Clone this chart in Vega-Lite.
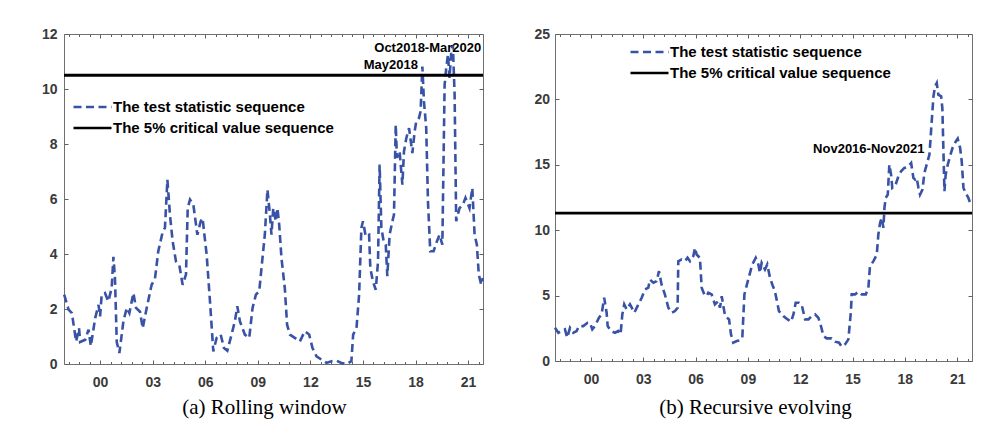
{
  "$schema": "https://vega.github.io/schema/vega-lite/v6.json",
  "padding": {"left": 40, "top": 26, "right": 5, "bottom": 5},
  "spacing": 43,
  "datasets": {
    "rolling": [
      {"t":1997.95,"v":2.52},{"t":1998.20,"v":1.98},{"t":1998.39,"v":1.85},{"t":1998.63,"v":0.82},{"t":1998.80,"v":1.30},{"t":1998.86,"v":0.80},
      {"t":1999.15,"v":0.88},{"t":1999.34,"v":1.25},{"t":1999.47,"v":0.65},{"t":1999.72,"v":1.67},{"t":1999.91,"v":2.15},{"t":2000.00,"v":1.73},
      {"t":2000.09,"v":2.52},{"t":2000.28,"v":2.58},{"t":2000.47,"v":2.28},{"t":2000.66,"v":2.76},{"t":2000.76,"v":3.90},{"t":2000.85,"v":3.10},
      {"t":2000.95,"v":0.80},{"t":2001.10,"v":0.40},{"t":2001.33,"v":1.55},{"t":2001.52,"v":2.04},{"t":2001.67,"v":1.85},{"t":2001.90,"v":2.58},
      {"t":2002.05,"v":2.04},{"t":2002.28,"v":1.90},{"t":2002.43,"v":1.30},{"t":2002.66,"v":2.04},{"t":2002.94,"v":2.88},{"t":2003.13,"v":3.10},
      {"t":2003.32,"v":4.10},{"t":2003.57,"v":4.80},{"t":2003.70,"v":4.95},{"t":2003.84,"v":6.70},{"t":2003.99,"v":5.40},{"t":2004.14,"v":4.46},
      {"t":2004.33,"v":3.73},{"t":2004.52,"v":3.60},{"t":2004.71,"v":2.88},{"t":2004.90,"v":3.25},{"t":2005.00,"v":5.67},{"t":2005.13,"v":5.98},
      {"t":2005.32,"v":5.80},{"t":2005.55,"v":4.70},{"t":2005.74,"v":5.19},{"t":2005.85,"v":5.30},{"t":2005.93,"v":4.82},{"t":2006.08,"v":3.98},
      {"t":2006.27,"v":2.28},{"t":2006.46,"v":0.46},{"t":2006.65,"v":0.95},{"t":2006.88,"v":1.07},{"t":2007.07,"v":0.58},{"t":2007.26,"v":0.48},
      {"t":2007.50,"v":1.07},{"t":2007.69,"v":1.55},{"t":2007.83,"v":2.10},{"t":2007.98,"v":1.55},{"t":2008.26,"v":1.07},{"t":2008.51,"v":0.95},
      {"t":2008.70,"v":2.04},{"t":2008.89,"v":2.52},{"t":2009.08,"v":2.64},{"t":2009.21,"v":3.49},{"t":2009.40,"v":4.70},{"t":2009.55,"v":6.34},
      {"t":2009.69,"v":5.43},{"t":2009.78,"v":4.70},{"t":2009.88,"v":5.67},{"t":2010.03,"v":5.19},{"t":2010.12,"v":5.67},{"t":2010.22,"v":5.07},
      {"t":2010.35,"v":3.85},{"t":2010.54,"v":2.76},{"t":2010.67,"v":1.43},{"t":2010.83,"v":1.07},{"t":2011.11,"v":0.95},{"t":2011.40,"v":0.82},
      {"t":2011.68,"v":1.19},{"t":2011.93,"v":1.07},{"t":2012.12,"v":0.58},{"t":2012.35,"v":0.28},{"t":2012.63,"v":0.16},{"t":2012.92,"v":0.04},
      {"t":2013.20,"v":0.10},{"t":2013.49,"v":0.12},{"t":2013.77,"v":0.04},{"t":2014.06,"v":0.00},{"t":2014.34,"v":0.10},{"t":2014.44,"v":1.07},
      {"t":2014.63,"v":1.30},{"t":2014.78,"v":2.52},{"t":2014.91,"v":4.95},{"t":2015.00,"v":5.19},{"t":2015.16,"v":4.64},{"t":2015.35,"v":4.70},
      {"t":2015.42,"v":3.49},{"t":2015.57,"v":3.00},{"t":2015.73,"v":2.70},{"t":2015.86,"v":3.73},{"t":2015.95,"v":7.25},{"t":2016.05,"v":4.95},
      {"t":2016.18,"v":4.46},{"t":2016.30,"v":4.34},{"t":2016.39,"v":3.19},{"t":2016.52,"v":4.70},{"t":2016.68,"v":5.19},{"t":2016.77,"v":5.43},
      {"t":2016.87,"v":8.70},{"t":2016.94,"v":7.50},{"t":2017.09,"v":7.73},{"t":2017.25,"v":6.52},{"t":2017.34,"v":7.73},{"t":2017.47,"v":8.20},
      {"t":2017.63,"v":8.58},{"t":2017.82,"v":7.67},{"t":2017.95,"v":8.46},{"t":2018.04,"v":8.82},{"t":2018.20,"v":8.95},{"t":2018.29,"v":9.19},
      {"t":2018.39,"v":10.82},{"t":2018.48,"v":9.55},{"t":2018.61,"v":8.58},{"t":2018.71,"v":5.90},{"t":2018.84,"v":4.10},{"t":2019.03,"v":4.10},
      {"t":2019.22,"v":4.46},{"t":2019.37,"v":4.70},{"t":2019.53,"v":4.34},{"t":2019.66,"v":10.15},{"t":2019.75,"v":10.76},{"t":2019.85,"v":11.25},
      {"t":2019.94,"v":10.40},{"t":2020.04,"v":11.37},{"t":2020.13,"v":11.60},{"t":2020.23,"v":9.79},{"t":2020.32,"v":5.19},{"t":2020.51,"v":5.67},
      {"t":2020.70,"v":5.79},{"t":2020.85,"v":6.04},{"t":2021.08,"v":5.67},{"t":2021.24,"v":6.40},{"t":2021.37,"v":4.70},{"t":2021.50,"v":4.34},
      {"t":2021.61,"v":3.25},{"t":2021.75,"v":2.88},{"t":2021.84,"v":3.13}
    ],
    "recursive": [
      {"t":1997.94,"v":2.54},{"t":1998.13,"v":2.16},{"t":1998.32,"v":2.29},{"t":1998.51,"v":2.42},{"t":1998.64,"v":1.78},{"t":1998.80,"v":2.54},
      {"t":1998.99,"v":2.16},{"t":1999.18,"v":2.29},{"t":1999.31,"v":2.67},{"t":1999.56,"v":2.67},{"t":1999.81,"v":2.93},{"t":1999.94,"v":2.93},
      {"t":2000.08,"v":2.42},{"t":2000.23,"v":2.67},{"t":2000.46,"v":3.31},{"t":2000.61,"v":3.56},{"t":2000.76,"v":4.83},{"t":2000.90,"v":3.69},
      {"t":2000.96,"v":2.67},{"t":2001.15,"v":2.29},{"t":2001.38,"v":2.16},{"t":2001.57,"v":2.29},{"t":2001.70,"v":2.04},{"t":2001.80,"v":3.56},
      {"t":2001.91,"v":4.33},{"t":2002.05,"v":3.94},{"t":2002.24,"v":4.33},{"t":2002.49,"v":3.69},{"t":2002.72,"v":4.33},{"t":2002.91,"v":4.83},
      {"t":2003.10,"v":5.47},{"t":2003.29,"v":5.60},{"t":2003.38,"v":6.23},{"t":2003.58,"v":5.98},{"t":2003.77,"v":6.10},{"t":2003.90,"v":6.87},
      {"t":2004.05,"v":5.85},{"t":2004.24,"v":5.09},{"t":2004.44,"v":4.07},{"t":2004.63,"v":3.69},{"t":2004.82,"v":3.82},{"t":2004.97,"v":4.07},
      {"t":2005.01,"v":7.63},{"t":2005.20,"v":7.76},{"t":2005.39,"v":7.63},{"t":2005.54,"v":7.89},{"t":2005.68,"v":7.63},{"t":2005.87,"v":8.02},
      {"t":2005.97,"v":8.65},{"t":2006.06,"v":8.14},{"t":2006.25,"v":7.89},{"t":2006.35,"v":5.60},{"t":2006.50,"v":5.09},{"t":2006.63,"v":4.96},
      {"t":2006.73,"v":5.22},{"t":2006.92,"v":5.09},{"t":2007.11,"v":4.33},{"t":2007.30,"v":4.58},{"t":2007.40,"v":4.07},{"t":2007.50,"v":4.96},
      {"t":2007.69,"v":3.44},{"t":2007.92,"v":3.18},{"t":2008.03,"v":2.04},{"t":2008.16,"v":1.40},{"t":2008.36,"v":1.53},{"t":2008.55,"v":1.58},
      {"t":2008.68,"v":1.78},{"t":2008.80,"v":5.09},{"t":2009.02,"v":6.23},{"t":2009.25,"v":7.38},{"t":2009.45,"v":7.89},{"t":2009.60,"v":7.38},
      {"t":2009.69,"v":6.74},{"t":2009.79,"v":7.51},{"t":2009.98,"v":7.00},{"t":2010.11,"v":7.38},{"t":2010.27,"v":6.36},{"t":2010.40,"v":5.85},
      {"t":2010.55,"v":5.34},{"t":2010.78,"v":3.82},{"t":2011.03,"v":3.44},{"t":2011.28,"v":3.18},{"t":2011.47,"v":3.00},{"t":2011.61,"v":3.56},
      {"t":2011.74,"v":4.45},{"t":2011.93,"v":4.45},{"t":2012.08,"v":4.33},{"t":2012.28,"v":3.18},{"t":2012.47,"v":3.18},{"t":2012.66,"v":3.44},
      {"t":2012.85,"v":3.56},{"t":2013.04,"v":3.31},{"t":2013.19,"v":2.67},{"t":2013.33,"v":1.91},{"t":2013.52,"v":1.73},{"t":2013.80,"v":1.73},
      {"t":2014.00,"v":1.48},{"t":2014.23,"v":1.40},{"t":2014.38,"v":1.09},{"t":2014.57,"v":1.27},{"t":2014.76,"v":1.65},{"t":2014.91,"v":3.82},
      {"t":2014.95,"v":5.09},{"t":2015.14,"v":5.09},{"t":2015.33,"v":5.29},{"t":2015.53,"v":5.09},{"t":2015.76,"v":5.09},{"t":2015.91,"v":5.60},
      {"t":2016.00,"v":7.25},{"t":2016.20,"v":7.63},{"t":2016.39,"v":8.14},{"t":2016.48,"v":9.67},{"t":2016.58,"v":10.56},{"t":2016.67,"v":10.94},
      {"t":2016.77,"v":10.18},{"t":2016.83,"v":11.70},{"t":2016.90,"v":12.47},{"t":2017.02,"v":12.72},{"t":2017.11,"v":15.01},{"t":2017.21,"v":14.25},
      {"t":2017.28,"v":13.23},{"t":2017.44,"v":13.36},{"t":2017.63,"v":14.12},{"t":2017.78,"v":14.50},{"t":2017.97,"v":14.76},{"t":2018.11,"v":14.81},
      {"t":2018.24,"v":14.96},{"t":2018.36,"v":15.14},{"t":2018.49,"v":14.00},{"t":2018.59,"v":13.87},{"t":2018.68,"v":14.00},{"t":2018.78,"v":13.23},
      {"t":2018.87,"v":12.72},{"t":2019.01,"v":13.10},{"t":2019.12,"v":14.38},{"t":2019.25,"v":15.01},{"t":2019.41,"v":15.78},{"t":2019.54,"v":18.32},
      {"t":2019.64,"v":20.23},{"t":2019.73,"v":20.99},{"t":2019.83,"v":21.25},{"t":2019.92,"v":20.36},{"t":2020.08,"v":20.23},{"t":2020.15,"v":19.34},
      {"t":2020.27,"v":12.98},{"t":2020.34,"v":14.25},{"t":2020.46,"v":15.01},{"t":2020.59,"v":15.65},{"t":2020.73,"v":16.28},{"t":2020.92,"v":16.79},
      {"t":2021.03,"v":17.00},{"t":2021.17,"v":16.28},{"t":2021.26,"v":15.27},{"t":2021.36,"v":13.23},{"t":2021.49,"v":12.85},{"t":2021.64,"v":12.47},
      {"t":2021.74,"v":12.09},{"t":2021.85,"v":12.34}
    ],
    "critA": [{"t":1997.94,"v":10.5},{"t":2021.85,"v":10.5}],
    "critB": [{"t":1997.94,"v":11.3},{"t":2021.85,"v":11.3}],
    "notesA": [
      {"t":2021.75,"v":11.5,"label":"Oct2018-Mar2020"},
      {"t":2018.14,"v":10.86,"label":"May2018"}
    ],
    "notesB": [
      {"t":2019.12,"v":16.21,"label":"Nov2016-Nov2021"}
    ]
  },
  "config": {
    "view": {"stroke": "#707070", "strokeWidth": 1},
    "font": "Liberation Sans",
    "axis": {
      "grid": false, "domain": false, "tickColor": "#606060", "tickWidth": 1,
      "labelFont": "Liberation Sans", "labelFontWeight": "bold", "labelFontSize": 14, "labelColor": "#3a3a3a"
    },
    "text": {"font": "Liberation Sans", "fontWeight": "bold", "fontSize": 13, "color": "black"}
  },
  "resolve": {
    "scale": {"x": "independent", "y": "independent", "color": "independent", "strokeDash": "independent"},
    "legend": {"color": "independent", "strokeDash": "independent"}
  },
  "hconcat": [
    {
      "width": 419,
      "height": 330,
      "resolve": {"axis": {"x": "independent", "y": "independent"}},
      "layer": [
        {
          "data": {"name": "rolling"},
          "mark": {"type": "line", "strokeWidth": 2.6},
          "encoding": {
            "x": {"field": "t", "type": "quantitative",
              "scale": {"domain": [1997.94, 2021.85], "nice": false, "zero": false},
              "axis": {"orient": "bottom", "values": [2000,2003,2006,2009,2012,2015,2018,2021], "tickSize": -4, "labelPadding": 15,
                "labelExpr": "slice('0' + (datum.value % 100), -2)",
                "title": "(a) Rolling window", "titleFont": "Liberation Serif", "titleFontSize": 21, "titleFontWeight": "normal",
                "titleColor": "black", "titleX": 200, "titleY": 49, "titleAlign": "center", "titleBaseline": "alphabetic"}},
            "y": {"field": "v", "type": "quantitative",
              "scale": {"domain": [0, 12], "nice": false, "zero": false},
              "axis": {"orient": "left", "values": [0,2,4,6,8,10,12], "tickSize": -4, "labelPadding": 11, "title": null}},
            "color": {"datum": "The test statistic sequence", "type": "nominal",
              "scale": {"domain": ["The test statistic sequence", "The 5% critical value sequence"], "range": ["#3852A6", "#000000"]},
              "legend": {"orient": "none", "legendX": 8, "legendY": 62, "title": null, "symbolType": "M-1,0L3,0", "symbolSize": 361,
                "symbolStrokeWidth": 2.6, "labelFont": "Liberation Sans", "labelFontSize": 15, "labelFontWeight": "bold", "labelColor": "black",
                "labelOffset": 19, "rowPadding": 2, "padding": 0, "labelLimit": 0}},
            "strokeDash": {"datum": "The test statistic sequence", "type": "nominal",
              "scale": {"domain": ["The test statistic sequence", "The 5% critical value sequence"], "range": [[8, 4.5], [1, 0]]},
              "legend": {"orient": "none", "legendX": 8, "legendY": 62, "title": null, "symbolType": "M-1,0L3,0", "symbolSize": 361,
                "symbolStrokeWidth": 2.6, "labelFont": "Liberation Sans", "labelFontSize": 15, "labelFontWeight": "bold", "labelColor": "black",
                "labelOffset": 19, "rowPadding": 2, "padding": 0, "labelLimit": 0}}
          }
        },
        {
          "data": {"name": "critA"},
          "mark": {"type": "line", "strokeWidth": 2.8},
          "encoding": {
            "x": {"field": "t", "type": "quantitative", "axis": null},
            "y": {"field": "v", "type": "quantitative", "axis": null},
            "color": {"datum": "The 5% critical value sequence", "type": "nominal"},
            "strokeDash": {"datum": "The 5% critical value sequence", "type": "nominal"}
          }
        },
        {
          "data": {"name": "notesA"},
          "mark": {"type": "text", "align": "right", "baseline": "middle"},
          "encoding": {
            "x": {"field": "t", "type": "quantitative",
              "axis": {"orient": "top", "values": [2000,2003,2006,2009,2012,2015,2018,2021], "tickSize": -4, "labels": false, "title": null}},
            "y": {"field": "v", "type": "quantitative",
              "axis": {"orient": "right", "values": [0,2,4,6,8,10,12], "tickSize": -4, "labels": false, "title": null}},
            "text": {"field": "label"}
          }
        },
        {
          "data": {"name": "critA"},
          "mark": {"type": "point", "opacity": 0},
          "encoding": {
            "x": {"field": "t", "type": "quantitative",
              "axis": {"orient": "bottom", "values": [1998.2,1998.8,1999.4,2000.6,2001.2,2001.8,2002.4,2003.6,2004.2,2004.8,2005.4,2006.6,2007.2,2007.8,2008.4,2009.6,2010.2,2010.8,2011.4,2012.6,2013.2,2013.8,2014.4,2015.6,2016.2,2016.8,2017.4,2018.6,2019.2,2019.8,2020.4,2021.6], "tickSize": -2.5, "labels": false, "title": null}},
            "y": {"field": "v", "type": "quantitative", "axis": null}
          }
        },
        {
          "data": {"name": "critA"},
          "mark": {"type": "point", "opacity": 0},
          "encoding": {
            "x": {"field": "t", "type": "quantitative",
              "axis": {"orient": "top", "values": [1998.2,1998.8,1999.4,2000.6,2001.2,2001.8,2002.4,2003.6,2004.2,2004.8,2005.4,2006.6,2007.2,2007.8,2008.4,2009.6,2010.2,2010.8,2011.4,2012.6,2013.2,2013.8,2014.4,2015.6,2016.2,2016.8,2017.4,2018.6,2019.2,2019.8,2020.4,2021.6], "tickSize": -2.5, "labels": false, "title": null}},
            "y": {"field": "v", "type": "quantitative", "axis": null}
          }
        }
      ]
    },
    {
      "width": 417,
      "height": 327,
      "resolve": {"axis": {"x": "independent", "y": "independent"}},
      "layer": [
        {
          "data": {"name": "recursive"},
          "mark": {"type": "line", "strokeWidth": 2.6},
          "encoding": {
            "x": {"field": "t", "type": "quantitative",
              "scale": {"domain": [1997.94, 2021.85], "nice": false, "zero": false},
              "axis": {"orient": "bottom", "values": [2000,2003,2006,2009,2012,2015,2018,2021], "tickSize": -4, "labelPadding": 15,
                "labelExpr": "slice('0' + (datum.value % 100), -2)",
                "title": "(b) Recursive evolving", "titleFont": "Liberation Serif", "titleFontSize": 21, "titleFontWeight": "normal",
                "titleColor": "black", "titleX": 200, "titleY": 52, "titleAlign": "center", "titleBaseline": "alphabetic"}},
            "y": {"field": "v", "type": "quantitative",
              "scale": {"domain": [0, 25], "nice": false, "zero": false},
              "axis": {"orient": "left", "values": [0,5,10,15,20,25], "tickSize": -4, "labelPadding": 9.5, "title": null}},
            "color": {"datum": "The test statistic sequence", "type": "nominal",
              "scale": {"domain": ["The test statistic sequence", "The 5% critical value sequence"], "range": ["#3852A6", "#000000"]},
              "legend": {"orient": "none", "legendX": 74, "legendY": 7, "title": null, "symbolType": "M-1,0L3,0", "symbolSize": 361,
                "symbolStrokeWidth": 2.6, "labelFont": "Liberation Sans", "labelFontSize": 15, "labelFontWeight": "bold", "labelColor": "black",
                "labelOffset": 19, "rowPadding": 2, "padding": 0, "labelLimit": 0}},
            "strokeDash": {"datum": "The test statistic sequence", "type": "nominal",
              "scale": {"domain": ["The test statistic sequence", "The 5% critical value sequence"], "range": [[8, 4.5], [1, 0]]},
              "legend": {"orient": "none", "legendX": 74, "legendY": 7, "title": null, "symbolType": "M-1,0L3,0", "symbolSize": 361,
                "symbolStrokeWidth": 2.6, "labelFont": "Liberation Sans", "labelFontSize": 15, "labelFontWeight": "bold", "labelColor": "black",
                "labelOffset": 19, "rowPadding": 2, "padding": 0, "labelLimit": 0}}
          }
        },
        {
          "data": {"name": "critB"},
          "mark": {"type": "line", "strokeWidth": 2.8},
          "encoding": {
            "x": {"field": "t", "type": "quantitative", "axis": null},
            "y": {"field": "v", "type": "quantitative", "axis": null},
            "color": {"datum": "The 5% critical value sequence", "type": "nominal"},
            "strokeDash": {"datum": "The 5% critical value sequence", "type": "nominal"}
          }
        },
        {
          "data": {"name": "notesB"},
          "mark": {"type": "text", "align": "right", "baseline": "middle"},
          "encoding": {
            "x": {"field": "t", "type": "quantitative",
              "axis": {"orient": "top", "values": [2000,2003,2006,2009,2012,2015,2018,2021], "tickSize": -4, "labels": false, "title": null}},
            "y": {"field": "v", "type": "quantitative",
              "axis": {"orient": "right", "values": [0,5,10,15,20,25], "tickSize": -4, "labels": false, "title": null}},
            "text": {"field": "label"}
          }
        },
        {
          "data": {"name": "critB"},
          "mark": {"type": "point", "opacity": 0},
          "encoding": {
            "x": {"field": "t", "type": "quantitative",
              "axis": {"orient": "bottom", "values": [1998.2,1998.8,1999.4,2000.6,2001.2,2001.8,2002.4,2003.6,2004.2,2004.8,2005.4,2006.6,2007.2,2007.8,2008.4,2009.6,2010.2,2010.8,2011.4,2012.6,2013.2,2013.8,2014.4,2015.6,2016.2,2016.8,2017.4,2018.6,2019.2,2019.8,2020.4,2021.6], "tickSize": -2.5, "labels": false, "title": null}},
            "y": {"field": "v", "type": "quantitative", "axis": null}
          }
        },
        {
          "data": {"name": "critB"},
          "mark": {"type": "point", "opacity": 0},
          "encoding": {
            "x": {"field": "t", "type": "quantitative",
              "axis": {"orient": "top", "values": [1998.2,1998.8,1999.4,2000.6,2001.2,2001.8,2002.4,2003.6,2004.2,2004.8,2005.4,2006.6,2007.2,2007.8,2008.4,2009.6,2010.2,2010.8,2011.4,2012.6,2013.2,2013.8,2014.4,2015.6,2016.2,2016.8,2017.4,2018.6,2019.2,2019.8,2020.4,2021.6], "tickSize": -2.5, "labels": false, "title": null}},
            "y": {"field": "v", "type": "quantitative", "axis": null}
          }
        }
      ]
    }
  ]
}
